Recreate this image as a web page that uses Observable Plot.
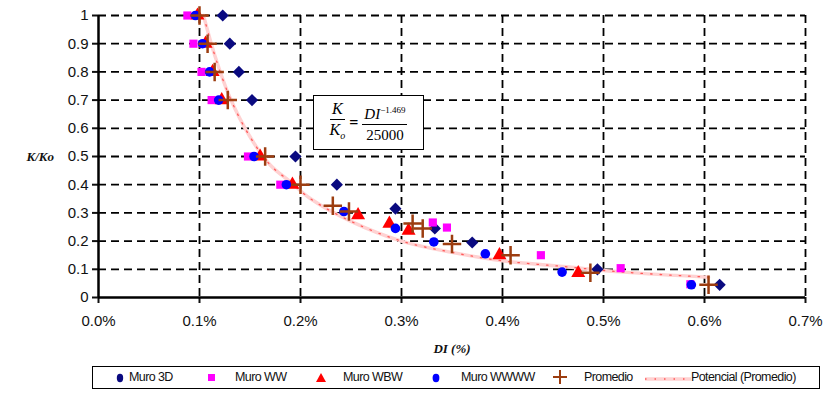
<!DOCTYPE html>
<html>
<head>
<meta charset="utf-8">
<script src="https://cdn.jsdelivr.net/npm/d3@7"></script>
<script src="https://cdn.jsdelivr.net/npm/@observablehq/plot@0.6"></script>
<style>
  html, body { margin: 0; padding: 0; background: #fff; }
  #wrap { position: relative; width: 835px; height: 394px; font-family: "Liberation Sans", Arial, sans-serif; }
  #eq { position: absolute; left: 313px; top: 95px; width: 109px; height: 53px; border: 1.5px solid #000; background: #fff;
        font-family: "Liberation Serif", "Times New Roman", serif; display: flex; align-items: center; justify-content: center; gap: 4px; }
  .frac { display: inline-flex; flex-direction: column; align-items: center; }
  .frac .num { border-bottom: 1.5px solid #000; padding: 0 2px 1px; line-height: 18px; }
  .frac .den { padding-top: 1px; line-height: 18px; }
  #legend { position: absolute; left: 92px; top: 366px; width: 728px; height: 23px; border: 1.5px solid #000; box-sizing: border-box; background: #fff; }
  .li { position: absolute; top: 3px; font-size: 12.5px; letter-spacing: -0.6px; color: #111; }
  .lm { position: absolute; top: 4px; }
</style>
</head>
<body>
<div id="wrap"></div>
<script>
// ---- data (DI in %, K/Ko) ----
const muro3D = [[0.123,1.0],[0.130,0.9],[0.139,0.8],[0.152,0.7],[0.195,0.5],[0.236,0.4],[0.294,0.315],[0.333,0.245],[0.370,0.195],[0.494,0.1],[0.615,0.045]];
const muroWW = [[0.088,1.0],[0.094,0.9],[0.102,0.8],[0.112,0.7],[0.148,0.5],[0.180,0.4],[0.331,0.266],[0.345,0.248],[0.438,0.15],[0.517,0.104],[0.586,0.047]];
const muroWBW = [[0.098,1.0],[0.106,0.9],[0.113,0.8],[0.122,0.7],[0.160,0.5],[0.192,0.4],[0.257,0.292],[0.288,0.262],[0.307,0.237],[0.397,0.15],[0.475,0.087]];
const muroWWWW = [[0.096,1.0],[0.103,0.9],[0.110,0.8],[0.119,0.7],[0.154,0.5],[0.186,0.4],[0.243,0.305],[0.294,0.245],[0.332,0.197],[0.383,0.155],[0.459,0.09],[0.587,0.045]];
const promedio = [[0.100,1.0],[0.108,0.9],[0.115,0.8],[0.128,0.7],[0.165,0.5],[0.200,0.4],[0.232,0.325],[0.248,0.305],[0.311,0.262],[0.321,0.245],[0.350,0.19],[0.408,0.15],[0.487,0.088],[0.604,0.045]];
// trend line "Potencial (Promedio)" points
const potencial = [[0.104,1.0],[0.115,0.86],[0.130,0.71],[0.150,0.57],[0.170,0.47],[0.190,0.41],[0.210,0.35],[0.250,0.27],[0.300,0.20],[0.350,0.16],[0.400,0.13],[0.460,0.11],[0.520,0.09],[0.604,0.072]];
const xTicks = [0,0.1,0.2,0.3,0.4,0.5,0.6,0.7];
const yTicks = [0,0.1,0.2,0.3,0.4,0.5,0.6,0.7,0.8,0.9,1];
const seriesNames = ["Muro 3D","Muro WW","Muro WBW","Muro WWWW","Promedio","Potencial (Promedio)"];

const toRows = (arr) => arr.map(([di,k]) => ({di, k}));
const NAVY = "#0a0a80", MAG = "#ff00ff", RED = "#ff0000", BLUE = "#0000ff", BROWN = "#9c3d10";
const grid = {stroke: "#000", strokeOpacity: 1, strokeDasharray: "8,5", strokeWidth: 1.8};

const chart = Plot.plot({
  width: 835, height: 358,
  marginLeft: 98, marginRight: 30, marginTop: 15, marginBottom: 61,
  style: {fontFamily: "'Liberation Sans', Arial, sans-serif", fontSize: "15px", color: "#111", background: "#fff"},
  x: {domain: [0, 0.7]},
  y: {domain: [0, 1]},
  marks: [
    Plot.gridX(xTicks.slice(1), grid),
    Plot.gridY(yTicks.slice(1), grid),
    Plot.axisX(xTicks, {tickSize: 6, tickPadding: 12, strokeWidth: 2, tickFormat: d => d.toFixed(1) + "%", label: null}),
    Plot.axisY(yTicks, {tickSize: 6, tickPadding: 4, strokeWidth: 2, tickFormat: d => d3.format("")(+d.toFixed(1)), label: null}),
    Plot.ruleX([0], {stroke: "#000", strokeWidth: 2.5}),
    Plot.ruleY([0], {stroke: "#000", strokeWidth: 2.5}),
    Plot.line(toRows(potencial), {x: "di", y: "k", stroke: "#ffd2d2", strokeWidth: 3.5, curve: "catmull-rom"}),
    Plot.line(toRows(potencial), {x: "di", y: "k", stroke: "#ff5a5a", strokeWidth: 1.3, strokeDasharray: "1.5,8", curve: "catmull-rom"}),
    Plot.dot(toRows(muro3D), {x: "di", y: "k", symbol: "diamond2", fill: NAVY, r: 5.5}),
    Plot.dot(toRows(muroWW), {x: "di", y: "k", symbol: "square", fill: MAG, r: 4.6}),
    Plot.dot(toRows(muroWBW), {x: "di", y: "k", symbol: "triangle", fill: RED, r: 5.2}),
    Plot.dot(toRows(muroWWWW), {x: "di", y: "k", symbol: "circle", fill: BLUE, r: 4.8}),
    Plot.dot(toRows(promedio), {x: "di", y: "k", symbol: "plus", stroke: BROWN, strokeWidth: 2.5, r: 6}),
    Plot.text(["K/Ko"], {frameAnchor: "left", dx: -72, dy: 0, fontFamily: "'Liberation Serif', serif", fontStyle: "italic", fontWeight: "bold", fontSize: 13}),
    Plot.text(["DI (%)"], {frameAnchor: "bottom", dy: 55, fontFamily: "'Liberation Serif', serif", fontStyle: "italic", fontWeight: "bold", fontSize: 13})
  ]
});

const wrap = document.getElementById("wrap");
wrap.appendChild(chart);

// equation annotation
const eq = document.createElement("div");
eq.id = "eq";
eq.innerHTML = `<span class="frac" style="font-size:16px;font-style:italic"><span class="num">K</span><span class="den">K<sub style="font-size:10px">o</sub></span></span>
<span style="font-size:16px;font-weight:bold">=</span>
<span class="frac" style="font-size:15px"><span class="num"><i>DI</i><sup style="font-size:9px">−1.469</sup></span><span class="den">25000</span></span>`;
wrap.appendChild(eq);

// legend
const legend = document.createElement("div");
legend.id = "legend";
const items = [
  {mx: 22, tx: 36, svg: `<svg width="10" height="14"><ellipse cx="5" cy="7" rx="3.2" ry="4.2" fill="${NAVY}"/></svg>`},
  {mx: 114, tx: 142, svg: `<svg width="10" height="14"><rect x="1" y="3" width="7" height="7" fill="${MAG}"/></svg>`},
  {mx: 222, tx: 250, svg: `<svg width="12" height="14"><path d="M6,2 L11,11 L1,11 Z" fill="${RED}"/></svg>`},
  {mx: 338, tx: 368, svg: `<svg width="10" height="14"><ellipse cx="5" cy="7" rx="3.4" ry="4.2" fill="${BLUE}"/></svg>`},
  {mx: 460, tx: 491, svg: `<svg width="14" height="16"><path d="M7,1 V15 M0,8 H14" stroke="${BROWN}" stroke-width="2"/></svg>`},
  {mx: 552, tx: 598, svg: `<svg width="46" height="14"><line x1="0" y1="8" x2="46" y2="8" stroke="#ffd2d2" stroke-width="3.5"/><line x1="0" y1="8" x2="46" y2="8" stroke="#ff5a5a" stroke-width="1.3" stroke-dasharray="1.5,8"/></svg>`}
];
items.forEach((it, i) => {
  const m = document.createElement("div");
  m.className = "lm"; m.style.left = it.mx + "px"; m.innerHTML = it.svg;
  if (i === 4) m.style.top = "2px";
  legend.appendChild(m);
  const t = document.createElement("div");
  t.className = "li"; t.style.left = it.tx + "px"; t.textContent = seriesNames[i];
  legend.appendChild(t);
});
wrap.appendChild(legend);
</script>
</body>
</html>
